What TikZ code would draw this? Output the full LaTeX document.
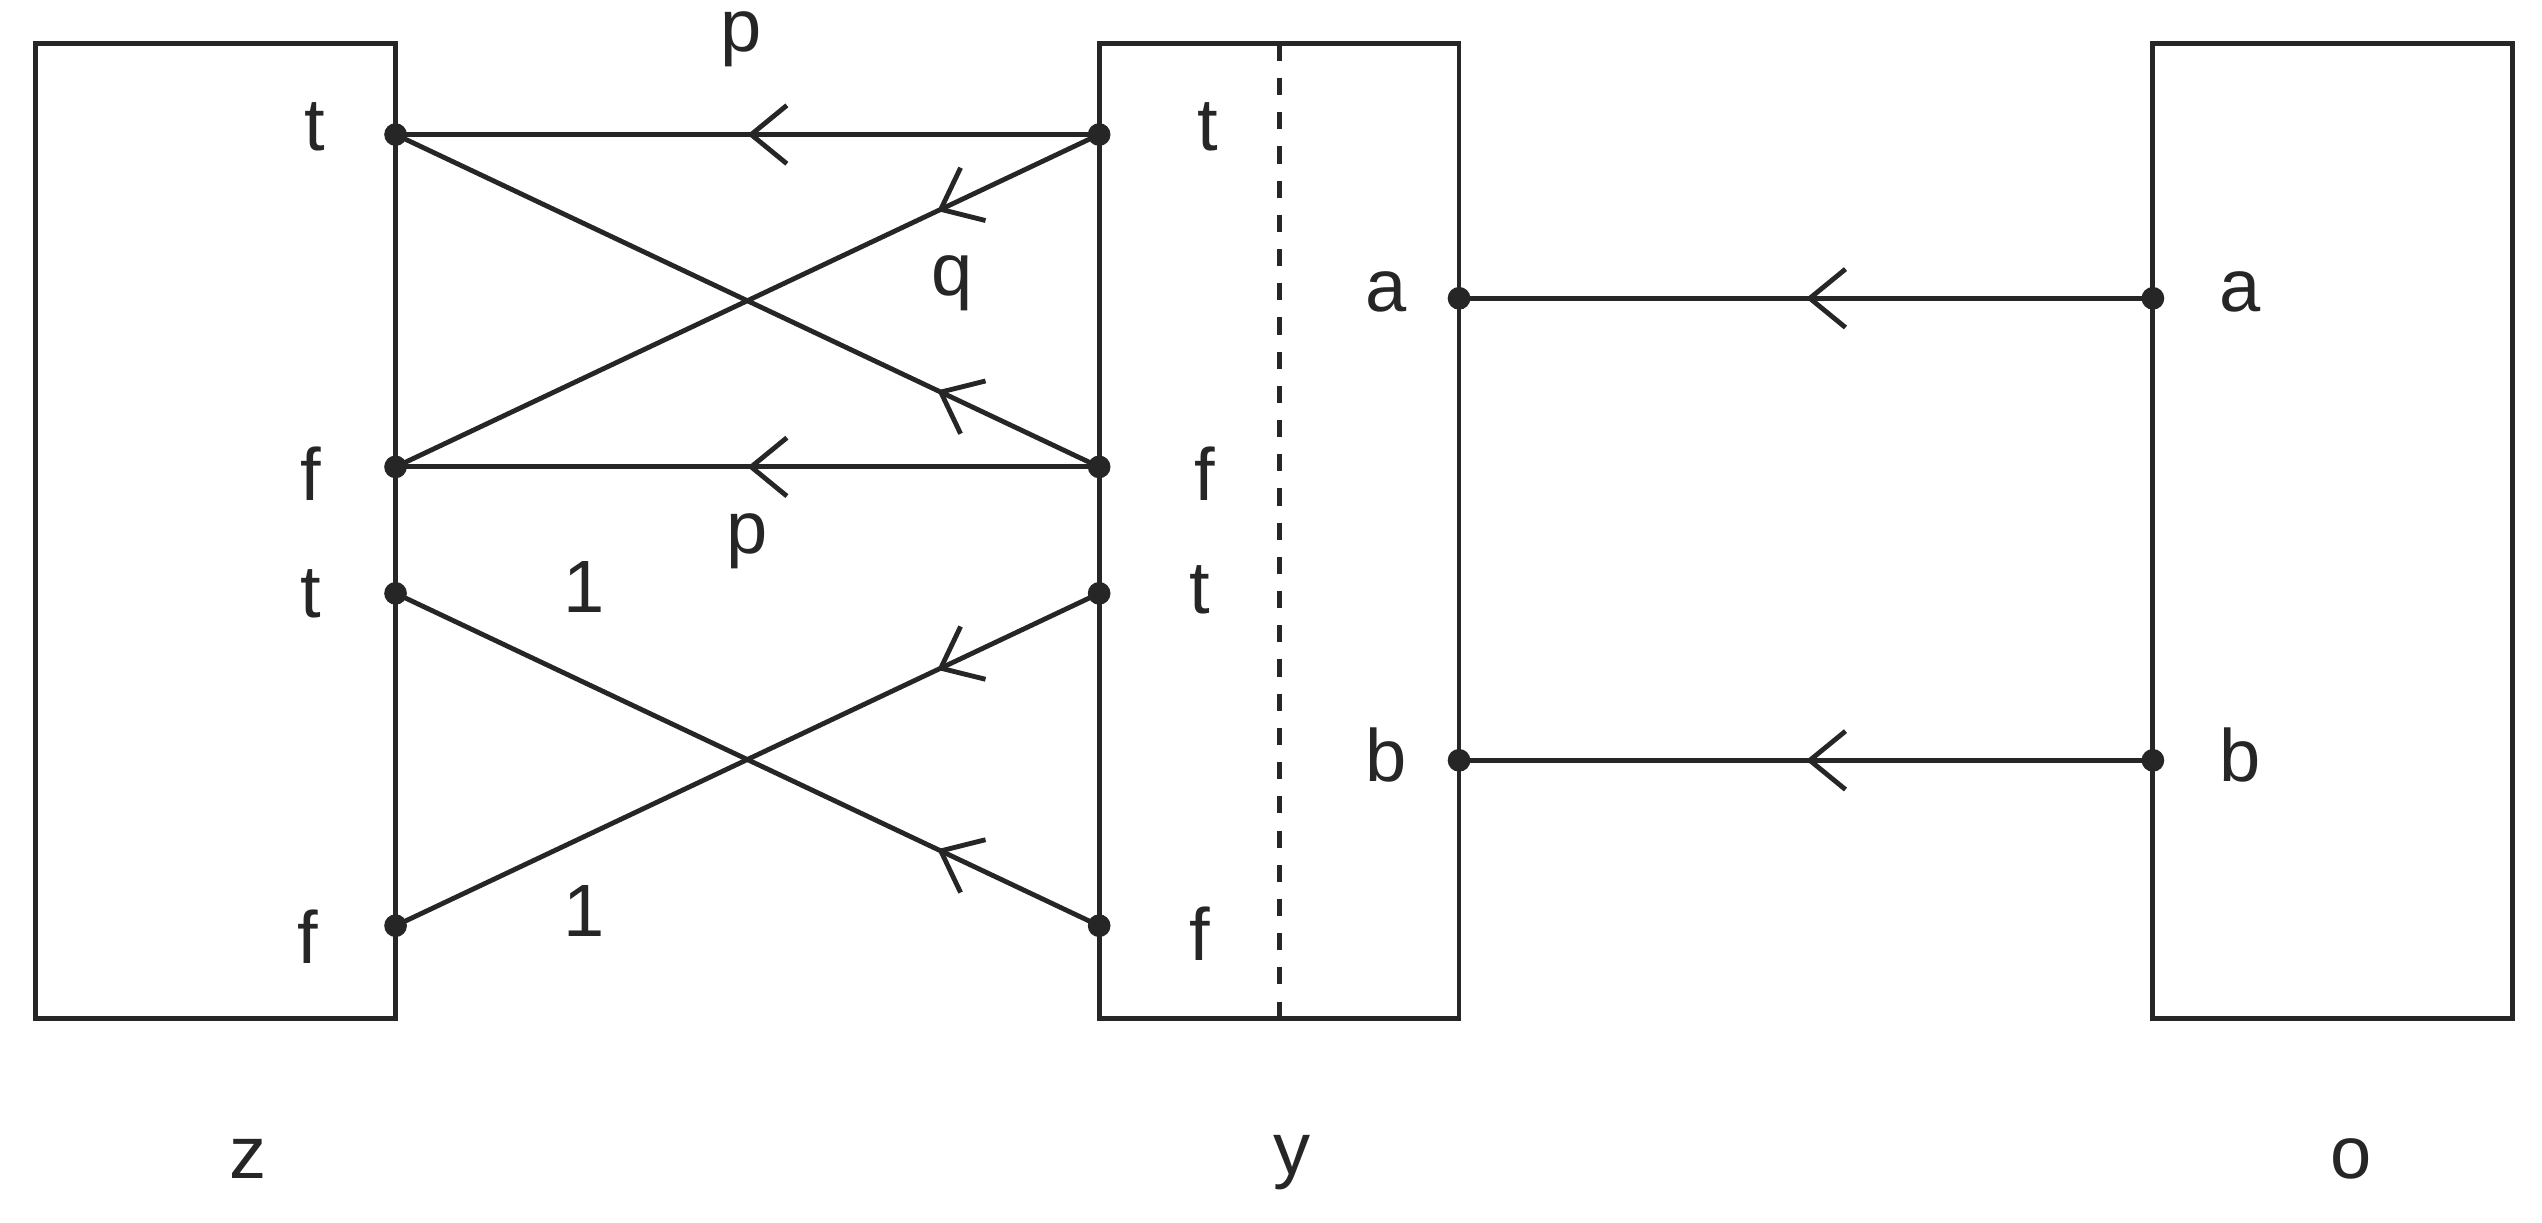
\documentclass[tikz,border=0pt]{standalone}
\usepackage{fontspec}
\setmainfont{Liberation Sans}
\usetikzlibrary{arrows.meta,decorations.markings}
\begin{document}
\begin{tikzpicture}[x=0.01cm,y=-0.01cm,line width=0.85pt,color={black!85},
  font=\fontsize{13}{15}\selectfont,
  box/.style={draw},
  dot/.style={circle,fill,inner sep=0pt,minimum size=0.14cm},
  lab/.style={inner sep=0pt},
  mid/.style={postaction={decorate},decoration={markings,mark=at position #1 with {\arrow{Straight Barb[length=2.2mm,width=3.6mm]}}}},
  mid/.default=0.5]
\useasboundingbox (0,0) rectangle (1568,754);
\draw[box] (22,27) rectangle (244,628);
\draw[box] (678,27) rectangle (900,628);
\draw[box] (1328,27) rectangle (1550,628);
\draw[dashed] (789,27) -- (789,628);
% dots
\node[dot] (z1) at (244,83) {}; \node[dot] (z2) at (244,288) {};
\node[dot] (z3) at (244,366) {}; \node[dot] (z4) at (244,571) {};
\node[dot] (y1) at (678,83) {}; \node[dot] (y2) at (678,288) {};
\node[dot] (y3) at (678,366) {}; \node[dot] (y4) at (678,571) {};
\node[dot] (ya) at (900,184) {}; \node[dot] (yb) at (900,469) {};
\node[dot] (oa) at (1328,184) {}; \node[dot] (ob) at (1328,469) {};
% edges
\draw[mid] (y1.center) -- (z1.center);
\draw[mid] (y2.center) -- (z2.center);
\draw[mid=0.23] (y1.center) -- (z2.center);
\draw[mid=0.23] (y2.center) -- (z1.center);
\draw[mid=0.23] (y3.center) -- (z4.center);
\draw[mid=0.23] (y4.center) -- (z3.center);
\draw[mid] (oa.center) -- (ya.center);
\draw[mid] (ob.center) -- (yb.center);
% labels
\node[lab] (lz1) at (194,78) {t}; \node[lab] (lz2) at (192,292) {f};
\node[lab] (lz3) at (192,366) {t}; \node[lab] (lz4) at (190,578) {f};
\node[lab] (ly1) at (745,78) {t}; \node[lab] (ly2) at (743,292) {f};
\node[lab] (ly3) at (740,364) {t}; \node[lab] (ly4) at (740,576) {f};
\node[lab] (la1) at (855,180) {a}; \node[lab] (lb1) at (855,466) {b};
\node[lab] (la2) at (1382,180) {a}; \node[lab] (lb2) at (1382,466) {b};
\node[lab] (e1) at (457,24) {p}; \node[lab] (e2) at (587,175) {q};
\node[lab] (e3) at (461,334) {p}; \node[lab] (e4) at (360,362) {1};
\node[lab] (e5) at (360,562) {1};
\node[lab] (nz) at (153,715) {z}; \node[lab] (ny) at (797,717) {y};
\node[lab] (no) at (1450,715) {o};
\end{tikzpicture}
\end{document}
